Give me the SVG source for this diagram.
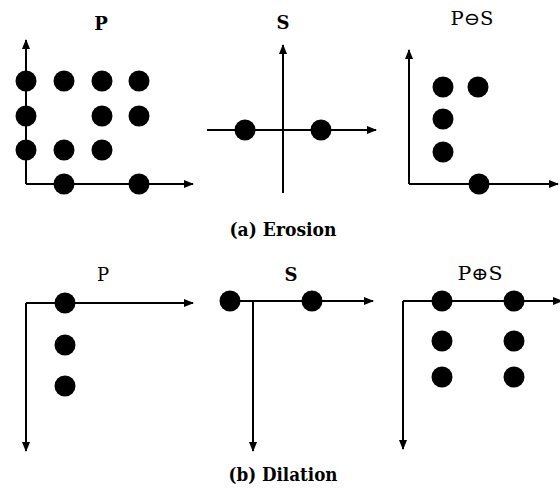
<svg xmlns="http://www.w3.org/2000/svg" width="560" height="488" viewBox="0 0 560 488">
  <defs>
    <marker id="arrow" viewBox="0 0 10 8" markerWidth="10" markerHeight="8" refX="9" refY="4" orient="auto" markerUnits="userSpaceOnUse">
      <path d="M0,0 L10,4 L0,8 z" fill="#000"/>
    </marker>
  </defs>
  <style>
    .axis { stroke: #000; stroke-width: 2; fill: none; }
    .arr { marker-end: url(#arrow); }
    .dot { fill: #000; }
    text { font-family: 'DejaVu Serif', 'Liberation Serif', serif; fill: #000; text-anchor: middle; }
    .title { font-size: 18px; }
    .b { font-weight: bold; }
    .caption { font-size: 19px; font-weight: bold; }
  </style>
  <rect width="560" height="488" fill="#fff"/>

  <!-- axes -->
  <g id="connectors">
    <!-- erosion: P -->
    <polyline class="axis arr" points="26,184 26,40"/>
    <polyline class="axis arr" points="26,184 193,184"/>
    <!-- erosion: S -->
    <polyline class="axis arr" points="283,193 283,45"/>
    <polyline class="axis arr" points="207,130 376,130"/>
    <!-- erosion: result -->
    <polyline class="axis arr" points="409,184 409,50"/>
    <polyline class="axis arr" points="409,184 558,184"/>
    <!-- dilation: P -->
    <polyline class="axis arr" points="26,303 193,303"/>
    <polyline class="axis arr" points="26,303 26,451"/>
    <!-- dilation: S -->
    <polyline class="axis arr" points="230,301 373,301"/>
    <polyline class="axis arr" points="253,301 253,451"/>
    <!-- dilation: result -->
    <polyline class="axis arr" points="403,301 562,301"/>
    <polyline class="axis arr" points="403,301 403,449"/>
  </g>

  <!-- erosion: P -->
  <g id="erosion-P">
    <text class="title b" x="101" y="30">P</text>
    <circle class="dot" cx="26" cy="81" r="10.5"/>
    <circle class="dot" cx="64" cy="81" r="10.5"/>
    <circle class="dot" cx="102" cy="81" r="10.5"/>
    <circle class="dot" cx="139" cy="81" r="10.5"/>
    <circle class="dot" cx="26" cy="116" r="10.5"/>
    <circle class="dot" cx="102" cy="116" r="10.5"/>
    <circle class="dot" cx="139" cy="116" r="10.5"/>
    <circle class="dot" cx="26" cy="150" r="10.5"/>
    <circle class="dot" cx="64" cy="150" r="10.5"/>
    <circle class="dot" cx="102" cy="150" r="10.5"/>
    <circle class="dot" cx="64" cy="184" r="10.5"/>
    <circle class="dot" cx="139" cy="184" r="10.5"/>
  </g>

  <!-- erosion: S -->
  <g id="erosion-S">
    <text class="title b" x="283" y="29">S</text>
    <circle class="dot" cx="245" cy="130" r="10.5"/>
    <circle class="dot" cx="321" cy="130" r="10.5"/>
  </g>

  <!-- erosion: result -->
  <g id="erosion-result">
    <text class="title" x="472" y="25" textLength="43" lengthAdjust="spacingAndGlyphs">P⊖S</text>
    <circle class="dot" cx="443" cy="87" r="10.5"/>
    <circle class="dot" cx="478" cy="87" r="10.5"/>
    <circle class="dot" cx="443" cy="119" r="10.5"/>
    <circle class="dot" cx="443" cy="152" r="10.5"/>
    <circle class="dot" cx="479" cy="184" r="10.5"/>
  </g>

  <text class="caption" x="283" y="236" textLength="107" lengthAdjust="spacingAndGlyphs">(a) Erosion</text>

  <!-- dilation: P -->
  <g id="dilation-P">
    <text class="title" x="103" y="281">P</text>
    <circle class="dot" cx="65" cy="303" r="10.5"/>
    <circle class="dot" cx="65" cy="345" r="10.5"/>
    <circle class="dot" cx="65" cy="386" r="10.5"/>
  </g>

  <!-- dilation: S -->
  <g id="dilation-S">
    <text class="title b" x="291" y="281">S</text>
    <circle class="dot" cx="230" cy="301" r="10.5"/>
    <circle class="dot" cx="312" cy="301" r="10.5"/>
  </g>

  <!-- dilation: result -->
  <g id="dilation-result">
    <text class="title" x="480" y="280" textLength="45" lengthAdjust="spacingAndGlyphs">P⊕S</text>
    <circle class="dot" cx="442" cy="301" r="10.5"/>
    <circle class="dot" cx="514" cy="301" r="10.5"/>
    <circle class="dot" cx="442" cy="341" r="10.5"/>
    <circle class="dot" cx="514" cy="341" r="10.5"/>
    <circle class="dot" cx="442" cy="377" r="10.5"/>
    <circle class="dot" cx="514" cy="377" r="10.5"/>
  </g>

  <text class="caption" x="283" y="481" textLength="109" lengthAdjust="spacingAndGlyphs">(b) Dilation</text>
</svg>
